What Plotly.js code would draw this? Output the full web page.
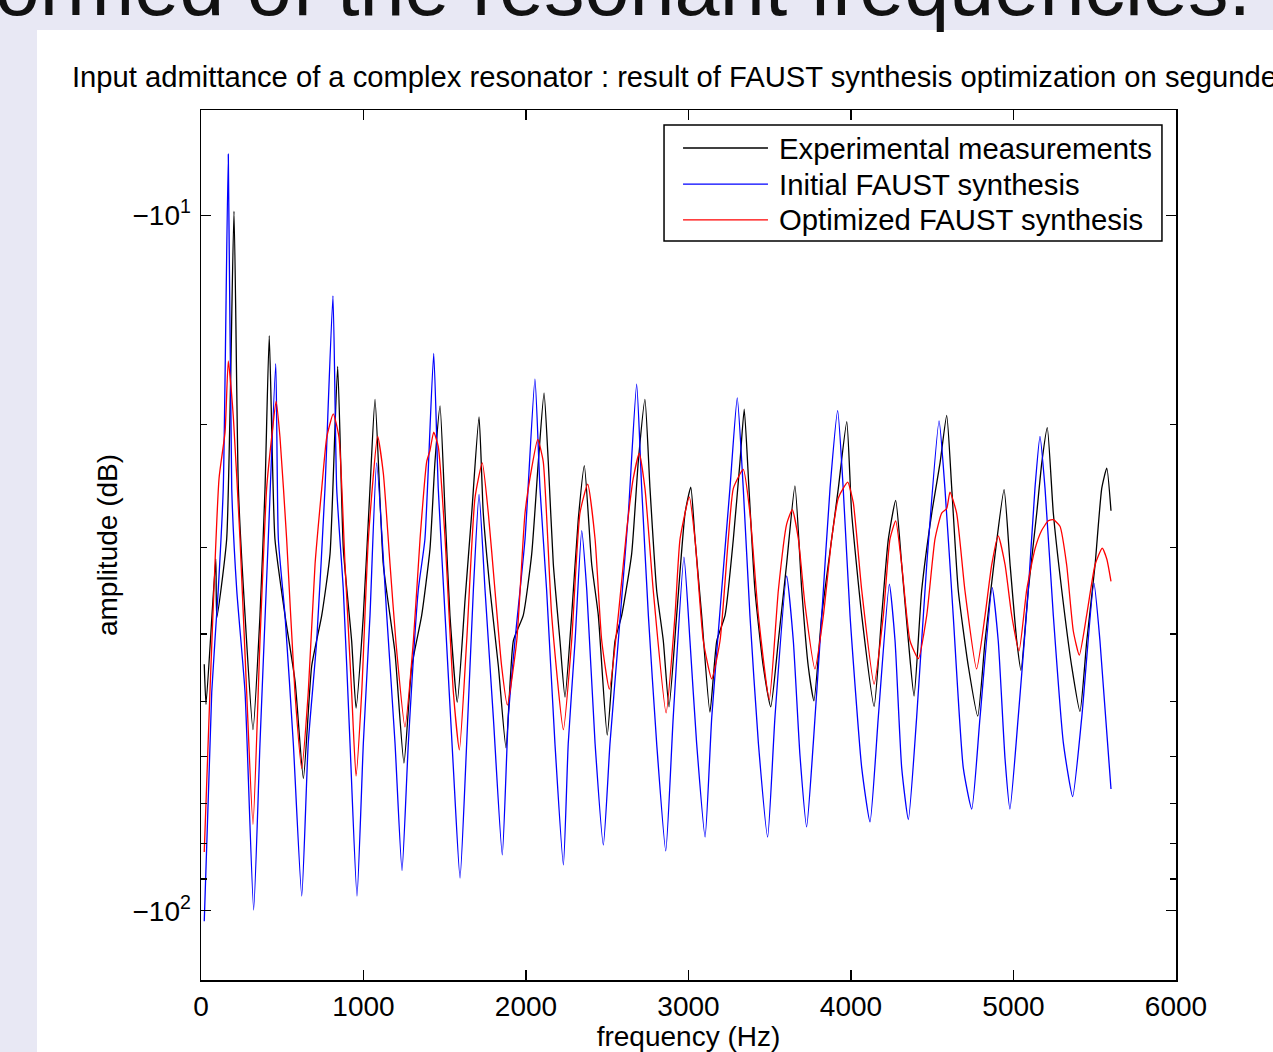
<!DOCTYPE html>
<html>
<head>
<meta charset="utf-8">
<script src="https://cdn.plot.ly/plotly-3.0.1.min.js"></script>
<style>
  html, body { margin: 0; padding: 0; }
  body { width: 1273px; height: 1052px; background: #e8e8f4; position: relative; overflow: hidden; font-family: "Liberation Sans", Arial, sans-serif; }
  #panel { position: absolute; left: 37px; top: 30px; right: 0; bottom: 0; background: #ffffff; }
  #chart { position: absolute; left: 0; top: 0; width: 1273px; height: 1052px; }
  #slidetitle { position: absolute; right: 22px; top: -53px; font-size: 81px; line-height: 81px; color: #111; white-space: nowrap; }
</style>
</head>
<body>
<div id="panel"></div>
<div id="chart"></div>
<div id="slidetitle">formed of the resonant frequencies.</div>
<script>
// ---- Data (frequency in Hz, amplitude in dB) ----
const expFreq = [20,31,91,97,158,203,230,271,320,363,394,420,455,517,579,630,681,743,794,841,876,927,954,999,1040,1071,1122,1194,1249,1297,1358,1409,1440,1471,1502,1532,1577,1625,1666,1711,1737,1779,1830,1877,1922,1983,2035,2076,2111,2137,2168,2209,2240,2281,2322,2359,2404,2445,2500,2548,2589,2650,2691,2732,2763,2804,2845,2880,2927,2979,3014,3040,3081,3132,3174,3225,3276,3317,3343,3372,3409,3460,3506,3553,3604,3655,3697,3737,3772,3820,3881,3922,3974,4004,4066,4142,4189,4230,4275,4312,4353,4388,4435,4497,4548,4589,4620,4660,4722,4780,4825,4886,4942,4979,5020,5046,5091,5143,5174,5208,5245,5297,5358,5409,5451,5502,5543,5574,5600];
const expAmp = [-44.2,-50.5,-31.2,-37.9,-29.2,-9.87,-24.7,-37.6,-54.9,-37.6,-24.7,-14.9,-29.2,-37.6,-46.8,-64.5,-44.5,-37.6,-30.7,-16.5,-30.2,-40.9,-51.1,-37.6,-24.7,-18.4,-31.8,-42.6,-61.3,-44.5,-37.6,-30.2,-22.6,-18.8,-26.8,-37.6,-50.1,-35.7,-26.8,-19.5,-26.8,-34.6,-44.5,-58.3,-40.9,-37.6,-30.7,-22.6,-18.0,-22.6,-31.7,-40.9,-49.3,-37.6,-27.3,-22.9,-31.7,-37.6,-55.9,-40.9,-37.6,-30.7,-22.6,-18.4,-24.7,-34.6,-40.9,-50.9,-37.6,-26.8,-24.6,-29.2,-37.6,-51.8,-40.9,-37.6,-29.2,-22.6,-19.0,-24.7,-34.6,-44.5,-50.9,-40.9,-31.7,-24.5,-34.6,-44.5,-49.9,-37.6,-29.2,-24.7,-19.8,-26.8,-37.6,-50.8,-37.6,-29.2,-25.7,-31.8,-40.9,-49.1,-34.6,-26.8,-22.7,-19.4,-24.7,-34.6,-44.5,-52.5,-40.9,-30.8,-24.8,-31.8,-40.9,-45.1,-34.6,-26.8,-22.7,-20.2,-26.8,-34.6,-44.5,-51.7,-40.9,-31.8,-24.7,-23.1,-26.6];

const iniFreq = [20,66,106,137,168,189,220,271,324,363,414,460,476,517,568,620,660,712,763,812,835,876,917,960,999,1040,1081,1143,1194,1237,1276,1337,1378,1432,1460,1502,1553,1594,1635,1676,1711,1748,1799,1854,1891,1932,1994,2055,2086,2127,2178,2230,2260,2302,2343,2374,2425,2476,2517,2568,2630,2681,2712,2753,2804,2860,2906,2972,3009,3050,3102,3143,3204,3255,3300,3337,3378,3430,3487,3532,3604,3645,3686,3727,3768,3820,3871,3918,3952,3994,4066,4117,4168,4236,4271,4312,4353,4404,4466,4542,4578,4629,4691,4743,4794,4869,4906,4948,4978,5029,5091,5132,5163,5194,5245,5307,5364,5420,5495,5532,5600];
const iniAmp = [-103.5,-48.5,-34.6,-24.7,-8.17,-24.7,-34.6,-48.5,-99.7,-57.4,-29.2,-16.35,-29.2,-37.6,-57.4,-95.2,-57.4,-40.9,-24.7,-13.06,-24.7,-34.6,-57.4,-95.2,-57.4,-37.6,-22.7,-37.6,-57.4,-87.5,-57.4,-34.6,-29.2,-15.8,-24.7,-37.6,-62.3,-89.7,-57.4,-34.6,-25.2,-34.6,-52.7,-83.1,-52.7,-40.9,-29.2,-17.2,-24.7,-34.6,-57.4,-85.9,-57.4,-40.9,-28.4,-34.6,-57.4,-80.4,-57.4,-40.9,-26.8,-17.5,-24.7,-37.6,-57.4,-82.0,-52.7,-31.0,-40.9,-57.4,-78.3,-52.7,-34.6,-24.7,-18.3,-24.7,-37.6,-57.4,-78.3,-52.7,-33.0,-40.9,-59.8,-75.7,-57.4,-37.6,-24.7,-19.1,-24.7,-37.6,-62.3,-74.5,-52.7,-33.9,-40.9,-62.3,-73.9,-52.7,-31.8,-19.75,-24.7,-37.6,-62.3,-71.4,-52.7,-34.3,-40.9,-60.5,-71.4,-52.7,-34.6,-24.7,-20.8,-24.7,-37.6,-57.4,-68.5,-52.7,-33.8,-40.9,-66.8];

const optFreq = [20,55,111,148,168,199,240,281,320,363,404,435,462,486,527,578,620,660,702,743,774,814,849,886,927,954,989,1030,1087,1122,1163,1200,1255,1307,1348,1389,1409,1432,1460,1502,1553,1590,1635,1686,1731,1768,1809,1850,1885,1943,1994,2035,2072,2106,2158,2230,2281,2332,2380,2425,2466,2513,2568,2620,2660,2697,2732,2783,2862,2917,2948,3005,3040,3091,3143,3194,3245,3276,3337,3378,3430,3497,3553,3604,3639,3676,3717,3778,3830,3881,3922,3952,3980,4014,4066,4142,4199,4240,4275,4312,4363,4414,4466,4517,4558,4589,4609,4650,4701,4773,4825,4866,4906,4948,4989,5034,5081,5132,5173,5214,5245,5286,5327,5368,5405,5450,5502,5546,5574,5600];
const optAmp = [-82.3,-48.5,-23.9,-20.5,-16.2,-19.5,-29.2,-48.5,-75.1,-40.9,-24.7,-20.85,-18.5,-20.85,-29.2,-48.5,-62.4,-48.5,-31.7,-24.7,-20.85,-19.3,-20.85,-31.7,-48.5,-64.0,-48.5,-29.2,-20.8,-23.5,-31.7,-41.2,-54.4,-40.9,-29.2,-22.6,-21.8,-20.5,-21.5,-29.2,-48.5,-58.7,-40.9,-25.5,-22.7,-26.8,-34.6,-44.5,-50.6,-40.9,-26.8,-23.1,-21.0,-22.6,-37.6,-54.9,-40.9,-26.8,-24.35,-29.2,-40.9,-48.0,-37.6,-28.3,-23.9,-22.0,-24.7,-34.6,-51.9,-37.6,-29.2,-25.4,-29.2,-40.9,-46.4,-40.9,-29.2,-24.7,-23.2,-26.8,-37.6,-49.7,-34.6,-27.8,-26.5,-29.2,-36.3,-44.9,-37.6,-29.2,-25.5,-24.7,-24.2,-25.9,-34.6,-47.2,-37.6,-29.2,-27.5,-31.8,-40.9,-43.4,-37.6,-29.2,-26.8,-26.4,-25.0,-26.8,-34.6,-44.9,-37.6,-31.8,-28.9,-31.8,-37.6,-42.3,-34.6,-30.2,-28.4,-27.5,-27.4,-28.0,-31.8,-39.6,-42.9,-37.6,-31.8,-30.1,-31.2,-33.6];

const seriesNames = ["Experimental measurements", "Initial FAUST synthesis", "Optimized FAUST synthesis"];
const seriesColors = ["#000000", "#0000ff", "#ff0000"];
const xTicks = [0, 1000, 2000, 3000, 4000, 5000, 6000];
const yMajorTicks = [10, 100];
const yMajorLabels = ["\u221210<sup>1</sup>", "\u221210<sup>2</sup>"];
const yMinorTicks = [20, 30, 40, 50, 60, 70, 80, 90];
const chartTitle = "Input admittance of a complex resonator : result of FAUST synthesis optimization on segunde";
const xTitle = "frequency (Hz)";
const yTitle = "amplitude (dB)";

// ---- Build traces: plotted on a reversed log axis of |dB| with "−10^n" labels ----
const mag = a => a.map(v => -v);
const xs = [expFreq, iniFreq, optFreq];
const ys = [expAmp, iniAmp, optAmp];
const traces = xs.map((x, i) => ({
  x: x, y: mag(ys[i]), type: "scatter", mode: "lines", name: seriesNames[i],
  line: { color: seriesColors[i], width: 1.3, shape: "spline", smoothing: 0.5 },
  hoverinfo: "x+y"
}));

const FONT = "Liberation Sans, Arial, Helvetica, sans-serif";

// Manual legend (long line samples like the original)
const legRowsY = [0.9563, 0.9149, 0.8736];
const shapes = [{
  type: "rect", xref: "paper", yref: "paper", x0: 0.4749, x1: 0.9856, y0: 0.8494, y1: 0.9828,
  line: { color: "#000", width: 1.5 }, fillcolor: "#fff", layer: "above"
}];
const annotations = [];
seriesNames.forEach((n, i) => {
  shapes.push({ type: "line", xref: "paper", yref: "paper", x0: 0.4944, x1: 0.5815, y0: legRowsY[i], y1: legRowsY[i],
    line: { color: seriesColors[i], width: 1.3 }, layer: "above" });
  annotations.push({ xref: "paper", yref: "paper", x: 0.5905, y: legRowsY[i], xanchor: "left", yanchor: "middle",
    text: n, showarrow: false, font: { family: FONT, size: 29.3, color: "#000" } });
});

const layout = {
  width: 1273, height: 1052,
  margin: { l: 201, r: 97, t: 110, b: 72, pad: 0 },
  paper_bgcolor: "rgba(0,0,0,0)",
  plot_bgcolor: "#ffffff",
  showlegend: false,
  font: { family: FONT, size: 28, color: "#000" },
  title: { text: chartTitle, x: 72 / 1273, xref: "container", xanchor: "left", y: 1 - 77 / 1052, yref: "container", yanchor: "middle",
    font: { family: FONT, size: 29.2, color: "#000" } },
  xaxis: {
    range: [0, 6000], tickmode: "array", tickvals: xTicks, ticktext: xTicks.map(String),
    ticks: "inside", ticklen: 10, tickwidth: 1.2, tickcolor: "#000",
    showline: true, linecolor: "#000", linewidth: 1.5, mirror: "ticks",
    showgrid: false, zeroline: false, ticklabelstandoff: 1,
    tickfont: { family: FONT, size: 28, color: "#000" },
    title: { text: xTitle, font: { family: FONT, size: 28, color: "#000" }, standoff: 10 }
  },
  yaxis: {
    type: "log", range: [Math.log10(125.7), Math.log10(7.06)],
    tickmode: "array", tickvals: yMajorTicks, ticktext: yMajorLabels,
    ticks: "inside", ticklen: 10, tickwidth: 1.2, tickcolor: "#000",
    minor: { tickmode: "array", tickvals: yMinorTicks, ticks: "inside", ticklen: 6, tickwidth: 1.2, tickcolor: "#000", showgrid: false },
    showline: true, linecolor: "#000", linewidth: 1.5, mirror: "ticks",
    showgrid: false, zeroline: false, ticklabelstandoff: 3,
    tickfont: { family: FONT, size: 28, color: "#000" },
    title: { text: yTitle, font: { family: FONT, size: 28, color: "#000" }, standoff: 6 }
  },
  shapes: shapes,
  annotations: annotations
};

Plotly.newPlot("chart", traces, layout, { displayModeBar: false, staticPlot: true });
</script>
</body>
</html>
